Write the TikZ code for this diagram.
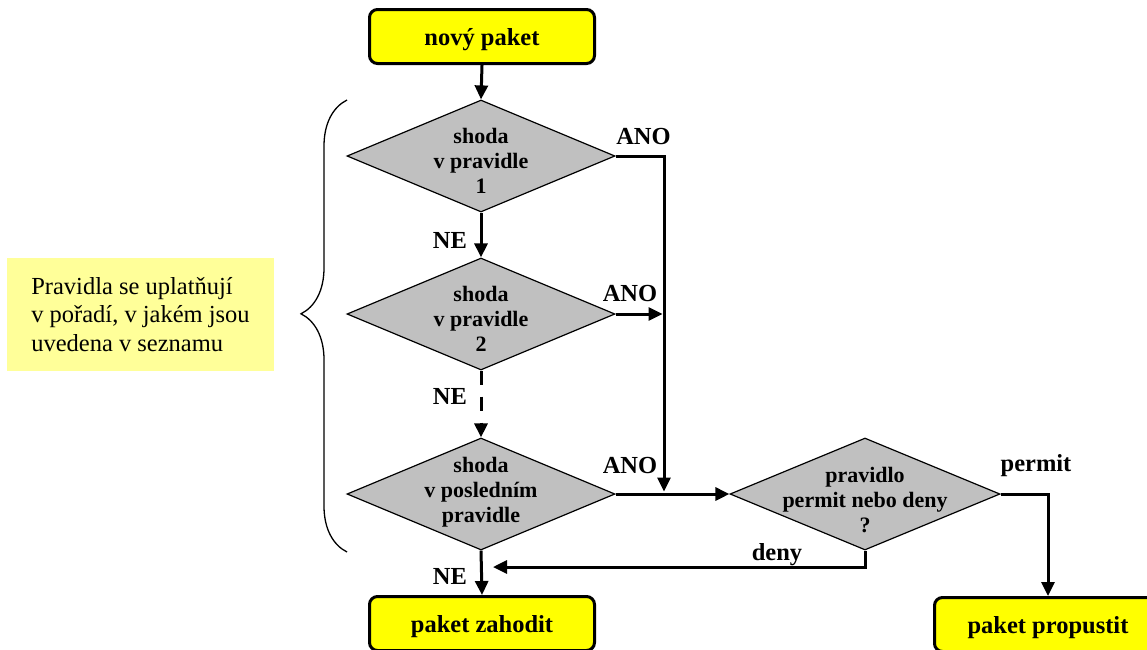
\documentclass[tikz,border=0pt]{standalone}
\usepackage{fontspec}
\setmainfont{Liberation Serif}
\usetikzlibrary{shapes.geometric,arrows.meta,decorations.pathreplacing}
\definecolor{decgray}{RGB}{192,192,192}
\definecolor{noteyellow}{RGB}{255,255,153}
\definecolor{termyellow}{RGB}{255,255,0}
\begin{document}
\begin{tikzpicture}[x=1pt,y=-1pt,
  termbox/.style={draw=black, line width=3pt, fill=termyellow, rounded corners=8pt, minimum width=225pt, minimum height=54pt, inner sep=0pt, text height=19pt, text depth=2pt, font=\fontsize{24.5}{28}\selectfont\bfseries},
  decision/.style={diamond, draw=black, line width=1.2pt, fill=decgray, minimum width=268pt, minimum height=112pt, inner sep=0pt},
  dtext/.style={align=center, font=\fontsize{22}{25}\selectfont\bfseries, inner sep=0pt},
  lbl/.style={font=\fontsize{24.5}{28}\selectfont\bfseries, inner sep=0pt},
  notebox/.style={fill=noteyellow, minimum width=267pt, minimum height=113pt, inner sep=0pt, align=left, font=\fontsize{24.5}{28.5}\selectfont},
  flow/.style={line width=3pt, -{Triangle[length=14pt,width=13pt]}},
]
\useasboundingbox (0,0) rectangle (1147,649);

% terminals
\node[termbox] (start) at (482,36.5) {nový paket};
\node[termbox] (drop) at (482,623.5) {paket zahodit};
\node[termbox, minimum width=227pt] (pass) at (1048,624.5) {paket propustit};

% decisions
\node[decision] (d1) at (481,156) {};
\node[dtext] (d1t) at (481,161) {shoda\\v pravidle\\1};
\node[decision] (d2) at (481,314) {};
\node[dtext] (d2t) at (481,319) {shoda\\v pravidle\\2};
\node[decision] (d3) at (481,494) {};
\node[dtext] (d3t) at (481,492) {shoda\\v posledním\\pravidle};
\node[decision, minimum width=270pt] (d4) at (865,494) {};
\node[dtext] (d4t) at (865,500) {pravidlo\\permit nebo deny\\?};

% note
\node[notebox] (note) at (140.5,314.5) {Pravidla se uplatňují\\v pořadí, v jakém jsou\\uvedena v seznamu};

% brace
\coordinate (braceBot) at (347,552);
\coordinate (braceTop) at (347,100);
\draw[line width=1.3pt, decorate, decoration={brace, amplitude=46pt, aspect=0.527}] (braceBot) -- (braceTop);

% connectors
\coordinate (j1) at (664,156);
\coordinate (denyEnd) at (493,567);
\draw[flow] (start.south) -- (d1.north);
\draw[flow] (d1.south) -- (d2.north);
\draw[flow, dash pattern=on 14pt off 12pt] (d2.south) -- (d3.north);
\draw[flow] (d3.south) -- (drop.north);
\draw[flow, shorten >=2.5pt] (d1.east) -- (j1) -- (j1 |- d3.east);
\draw[flow, shorten >=1.5pt] (d2.east) -- (d2.east -| j1);
\draw[flow] (d3.east) -- (d4.west);
\draw[flow] (d4.east) -| (pass.north);
\draw[flow] (d4.south) |- (denyEnd);

% labels
\node[lbl] (ano1) at (643.5,137) {ANO};
\node[lbl] (ne1) at (450,240) {NE};
\node[lbl] (ano2) at (630,293.5) {ANO};
\node[lbl] (ne2) at (450,396.5) {NE};
\node[lbl] (ano3) at (630,465) {ANO};
\node[lbl] (ne3) at (450,576.5) {NE};
\node[lbl] (deny) at (777,555) {deny};
\node[lbl] (permit) at (1036,466) {permit};
\end{tikzpicture}
\end{document}
